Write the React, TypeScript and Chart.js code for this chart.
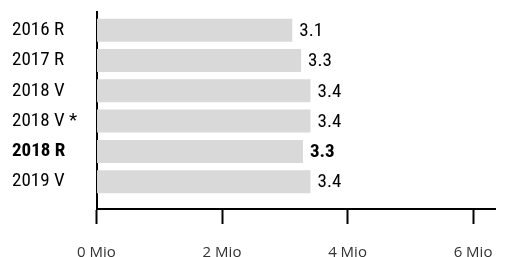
import React, { useEffect, useRef } from "react";
import { Chart, registerables } from "chart.js";

Chart.register(...registerables);

const categories = ["2016 R", "2017 R", "2018 V", "2018 V *", "2018 R", "2019 V"];
const values = [3.12, 3.26, 3.41, 3.41, 3.29, 3.41];
const boldFlags = [false, false, false, false, true, false];
const xTickValues = [0, 2, 4, 6];
const xMax = 6.35;

const NARROW = "'Roboto Condensed', sans-serif";
const SANS = "'Open Sans', sans-serif";

const valueLabelPlugin = {
  id: "valueLabels",
  afterDatasetsDraw(chart: any) {
    const ctx = chart.ctx;
    const meta = chart.getDatasetMeta(0);
    ctx.save();
    ctx.textAlign = "left";
    ctx.textBaseline = "middle";
    ctx.fillStyle = "#000";
    meta.data.forEach((bar: any, i: number) => {
      ctx.font = `${boldFlags[i] ? "bold " : ""}19px ${NARROW}`;
      ctx.fillText(values[i].toFixed(1), bar.x + 7, bar.y + 1);
    });
    ctx.restore();
  },
};

export default function App() {
  const ref = useRef<HTMLCanvasElement | null>(null);
  useEffect(() => {
    if (!ref.current) return;
    const chart = new Chart(ref.current, {
      type: "bar",
      data: {
        labels: categories,
        datasets: [
          {
            data: values,
            backgroundColor: "#d9d9d9",
            borderWidth: 0,
            barPercentage: 0.76,
            categoryPercentage: 1,
          },
        ],
      },
      options: {
        indexAxis: "y",
        animation: false,
        responsive: false,
        maintainAspectRatio: false,
        layout: { padding: { left: 12, right: 15, top: 12, bottom: 0 } },
        plugins: { legend: { display: false }, tooltip: { enabled: false } },
        scales: {
          x: {
            type: "linear",
            min: 0,
            max: xMax,
            afterBuildTicks: (scale: any) => {
              scale.ticks = xTickValues.map((v) => ({ value: v }));
            },
            afterFit: (scale: any) => {
              scale.height = 48;
              scale.paddingRight = 0;
              scale.paddingLeft = 0;
            },
            grid: {
              drawOnChartArea: false,
              drawTicks: true,
              tickLength: 15,
              tickWidth: 2,
              color: "#000",
            },
            border: { display: true, color: "#000", width: 2 },
            ticks: {
              padding: 20,
              color: "#333",
              font: { family: SANS, size: 15 },
              callback: (v: any) => `${v} Mio`,
            },
          },
          y: {
            type: "category",
            afterBuildTicks: (scale: any) => {
              scale._startValue = -0.6;
              scale._valueRange = 6.5;
            },
            afterFit: (scale: any) => {
              scale.width = 84.5;
            },
            grid: { display: false, drawTicks: false },
            border: { display: true, color: "#000", width: 2 },
            ticks: {
              crossAlign: "far",
              padding: 0,
              color: "#000",
              font: (c: any) => ({
                family: NARROW,
                size: 19,
                weight: boldFlags[c.index] ? "bold" : "normal",
              }),
            },
          },
        },
      },
      plugins: [valueLabelPlugin],
    } as any);
    return () => chart.destroy();
  }, []);
  return (
    <div style={{ position: "fixed", left: 0, top: 0, width: 510, height: 257, background: "#fff" }}>
      <canvas ref={ref} width={510} height={257} style={{ width: 510, height: 257, display: "block" }} />
    </div>
  );
}
